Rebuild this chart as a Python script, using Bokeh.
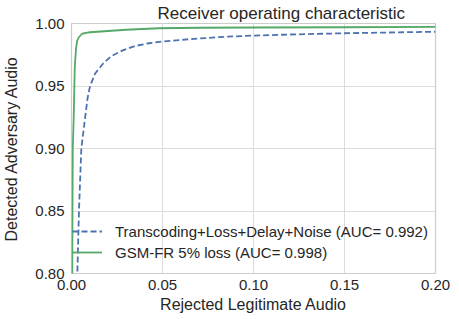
from bokeh.plotting import figure
from bokeh.models import Range1d, Legend, LegendItem, FixedTicker, NumeralTickFormatter
from bokeh.embed import file_html
from bokeh.resources import INLINE

# Data
fpr_noise = [0.0029, 0.0032, 0.0041, 0.0054, 0.0075, 0.0088, 0.0102, 0.0130, 0.0174, 0.0220,
             0.0281, 0.0350, 0.0425, 0.0497, 0.0650, 0.0855, 0.100, 0.120, 0.150, 0.175, 0.200]
tpr_noise = [0.78, 0.80, 0.85, 0.90, 0.925, 0.940, 0.950, 0.960, 0.968, 0.974,
             0.9785, 0.9820, 0.9842, 0.9855, 0.9875, 0.9895, 0.9903, 0.9912, 0.9922, 0.9928, 0.9934]
fpr_gsm = [0.0003, 0.0004, 0.0007, 0.0012, 0.0018, 0.0025, 0.0031, 0.0040, 0.0058, 0.0080,
           0.0102, 0.020, 0.030, 0.048, 0.070, 0.100, 0.150, 0.200]
tpr_gsm = [0.78, 0.80, 0.90, 0.924, 0.9655, 0.980, 0.986, 0.989, 0.9918, 0.9925,
           0.9930, 0.9940, 0.9950, 0.9962, 0.9966, 0.9968, 0.9970, 0.9973]
labels = ["Transcoding+Loss+Delay+Noise (AUC= 0.992)", "GSM-FR 5% loss (AUC= 0.998)"]
x_ticks = [0.0, 0.05, 0.10, 0.15, 0.20]
y_ticks = [0.80, 0.85, 0.90, 0.95, 1.00]

FONT = "Liberation Sans"

p = figure(frame_width=364, frame_height=250, output_backend="svg", toolbar_location=None,
           x_range=Range1d(0, 0.2), y_range=Range1d(0.8, 1.0),
           min_border_left=0, min_border_right=15, min_border_top=0, min_border_bottom=0,
           title="Receiver operating characteristic")

p.title.text_font = FONT
p.title.text_font_size = "17px"
p.title.text_font_style = "normal"
p.title.text_color = "#262626"
p.title.align = "left"
p.title.offset = 86
p.title.standoff = 2

p.outline_line_color = "#cccccc"
p.outline_line_width = 1.2
p.background_fill_color = "white"
p.border_fill_color = "white"

for ax in (p.xaxis, p.yaxis):
    ax.axis_line_color = None
    ax.major_tick_line_color = None
    ax.minor_tick_line_color = None
    ax.major_tick_out = 0
    ax.major_tick_in = 0
    ax.minor_tick_out = 0
    ax.minor_tick_in = 0
    ax.major_label_text_font = FONT
    ax.major_label_text_font_size = "15px"
    ax.major_label_text_color = "#262626"
    ax.axis_label_text_font = FONT
    ax.axis_label_text_font_size = "16px"
    ax.axis_label_text_font_style = "normal"
    ax.axis_label_text_color = "#262626"

p.xaxis.ticker = FixedTicker(ticks=x_ticks)
p.yaxis.ticker = FixedTicker(ticks=y_ticks)
p.xaxis.formatter = NumeralTickFormatter(format="0.00")
p.yaxis.formatter = NumeralTickFormatter(format="0.00")
p.xaxis.axis_label = "Rejected Legitimate Audio"
p.yaxis.axis_label = "Detected Adversary Audio"
p.xaxis.major_label_standoff = 6
p.yaxis.major_label_standoff = 7
p.xaxis.axis_label_standoff = 3
p.yaxis.axis_label_standoff = 12

p.grid.grid_line_color = "#dcdcdc"
p.grid.grid_line_width = 1

r1 = p.line(fpr_noise, tpr_noise, line_color="#4c72b0", line_width=1.8, line_dash="6 3")
r2 = p.line(fpr_gsm, tpr_gsm, line_color="#55a868", line_width=1.8)

legend = Legend(items=[LegendItem(label=labels[0], renderers=[r1]),
                       LegendItem(label=labels[1], renderers=[r2])],
                location=(1, 11), background_fill_alpha=0, border_line_color=None,
                label_text_font=FONT, label_text_font_size="15px", label_text_color="#262626",
                glyph_width=30, label_standoff=13, spacing=1, padding=2, margin=0,
                label_height=20, glyph_height=20)
p.add_layout(legend, "center")

open("out.html", "w").write(file_html(p, INLINE))
